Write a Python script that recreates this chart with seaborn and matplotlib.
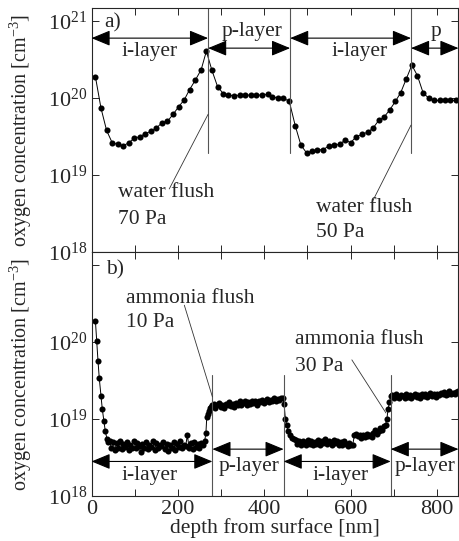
import numpy as np
import matplotlib
matplotlib.use("Agg")
import matplotlib.pyplot as plt
from matplotlib.ticker import MultipleLocator, NullLocator, FixedLocator
import seaborn as sns
import pandas as pd


# ==========================================
# DATA (depth in nm, log10 of oxygen concentration in cm^-3)
# ==========================================
depth_a = [9, 22, 35, 48, 61, 73, 86, 99, 112, 125, 138, 150, 163, 176, 189, 202,
           215, 227, 240, 254, 266, 279, 292, 305, 317, 330, 343, 356, 369, 381,
           394, 408, 419, 432, 444, 458, 472, 485, 498, 511, 523, 536, 550, 562,
           575, 588, 600, 613, 627, 640, 652, 665, 677, 691, 704, 716, 729, 742,
           755, 768, 781, 793, 806, 819, 831, 844]
logc_a = [20.28, 19.87, 19.58, 19.42, 19.40, 19.38, 19.42, 19.48, 19.50, 19.54,
          19.57, 19.61, 19.68, 19.70, 19.79, 19.89, 19.98, 20.11, 20.23, 20.37,
          20.61, 20.36, 20.15, 20.06, 20.04, 20.03, 20.04, 20.04, 20.04, 20.04,
          20.04, 20.05, 20.02, 20.00, 20.00, 19.96, 19.64, 19.39, 19.29, 19.31,
          19.33, 19.33, 19.38, 19.39, 19.40, 19.46, 19.42, 19.50, 19.53, 19.56,
          19.61, 19.71, 19.75, 19.85, 19.96, 20.07, 20.25, 20.43, 20.29, 20.07,
          20.00, 19.97, 19.97, 19.97, 19.97, 19.97]

depth_b = [9, 12, 15, 18, 22, 25, 29, 32, 36, 39,
           42, 46, 50, 54, 58, 62, 66, 70, 74, 78, 82, 86, 90, 94, 98, 102, 106,
           110, 114, 118, 122, 126, 130, 134, 138, 142, 146, 150, 154, 158, 162,
           166, 170, 174, 178, 182, 186, 190, 194, 198, 202, 206, 210, 214, 218,
           222, 226, 230, 234, 238, 242, 246, 250, 254, 258, 262,
           265, 267, 269, 271, 274, 277, 280,
           283, 287, 291, 295, 299, 303, 307, 311, 315, 319, 323, 327, 331, 335,
           339, 343, 347, 351, 355, 359, 363, 367, 371, 375, 379, 383, 387, 391,
           395, 399, 403, 407, 411, 415, 419, 423, 427, 431, 435, 439, 443,
           446, 449, 452, 456, 460, 465, 469,
           473, 477, 481, 485, 489, 493, 497, 501, 505, 509, 513, 517, 521, 525,
           529, 533, 537, 541, 545, 549, 553, 557, 561, 565, 569, 573, 577, 581,
           585, 589, 593, 597, 601, 605,
           609, 613, 617, 621, 625, 629, 633, 637, 641, 645, 649, 653, 657, 661,
           665, 669, 673, 677, 681, 684, 687, 690, 694,
           697, 701, 705, 709, 713, 717, 721, 725, 729, 733, 737, 741, 745, 749,
           753, 757, 761, 765, 769, 773, 777, 781, 785, 789, 793, 797, 801, 805,
           809, 813, 817, 821, 825, 829, 833, 837, 841, 845, 849]
logc_b = [20.28, 20.02, 19.76, 19.53, 19.30, 19.13, 18.97, 18.84, 18.74, 18.70,
          18.71, 18.62, 18.70, 18.60, 18.69, 18.63, 18.72, 18.61, 18.68, 18.64,
          18.70, 18.60, 18.67, 18.63, 18.71, 18.62, 18.69, 18.65, 18.57, 18.68,
          18.63, 18.70, 18.61, 18.66, 18.64, 18.72, 18.60, 18.69, 18.62, 18.67,
          18.65, 18.70, 18.61, 18.68, 18.58, 18.66, 18.63, 18.70, 18.60, 18.68,
          18.64, 18.71, 18.62, 18.67, 18.65, 18.79, 18.63, 18.69, 18.61, 18.70,
          18.64, 18.68, 18.62, 18.69, 18.66, 18.71,
          18.82, 19.03, 19.07, 19.10, 19.14, 19.16, 19.18,
          19.20, 19.15, 19.19, 19.21, 19.16, 19.19, 19.14, 19.20, 19.18, 19.22,
          19.17, 19.20, 19.16, 19.21, 19.19, 19.23, 19.18, 19.21, 19.24, 19.19,
          19.22, 19.20, 19.24, 19.21, 19.23, 19.19, 19.24, 19.22, 19.25, 19.21,
          19.24, 19.26, 19.22, 19.25, 19.23, 19.27, 19.24, 19.26, 19.25, 19.27,
          19.28,
          19.20, 19.00, 18.93, 18.84, 18.79, 18.76, 18.74,
          18.73, 18.68, 18.71, 18.66, 18.72, 18.69, 18.67, 18.73, 18.68, 18.71,
          18.66, 18.70, 18.68, 18.73, 18.67, 18.71, 18.69, 18.74, 18.68, 18.72,
          18.70, 18.67, 18.73, 18.69, 18.71, 18.67, 18.70, 18.66, 18.71, 18.68,
          18.65, 18.69, 18.66, 18.67,
          18.79, 18.81, 18.78, 18.80, 18.76, 18.79, 18.77, 18.81, 18.78, 18.80,
          18.77, 18.82, 18.86, 18.81, 18.84, 18.89, 18.86, 18.91, 18.93, 19.00,
          19.13, 19.22, 19.30,
          19.31, 19.28, 19.32, 19.29, 19.27, 19.31, 19.30, 19.28, 19.32, 19.29,
          19.31, 19.27, 19.30, 19.33, 19.29, 19.31, 19.28, 19.32, 19.30, 19.33,
          19.29, 19.31, 19.34, 19.30, 19.32, 19.29, 19.33, 19.31, 19.34, 19.32,
          19.35, 19.31, 19.33, 19.36, 19.32, 19.34, 19.33, 19.35, 19.36]

# layer boundaries (nm)
bounds_a = [270, 460, 740]
bounds_b = [280, 445, 693]

# layer arrows: (start, end, label, label x)
layers_a = [(0, 270, "i-layer", 134), (270, 460, "p-layer", 372),
            (460, 740, "i-layer", 620), (740, 850, "p", 797)]
layers_b = [(0, 280, "i-layer", 134), (280, 445, "p-layer", 365),
            (445, 693, "i-layer", 578), (693, 850, "p-layer", 772)]

ytick_exp = [18, 19, 20, 21]


# ==========================================
# STYLE
# ==========================================
sns.set_style("ticks")
plt.rcParams["font.family"] = ["Liberation Serif", "DejaVu Serif"]
plt.rcParams["mathtext.fontset"] = "custom"
plt.rcParams["mathtext.rm"] = "Liberation Serif"
plt.rcParams["mathtext.it"] = "Liberation Serif:italic"
FS = 15.5

fig = plt.figure(figsize=(4.59, 5.41), dpi=100)
left, width = 91.5 / 459, 367 / 459
ax_a = fig.add_axes([left, 0.534, width, 0.451])
ax_b = fig.add_axes([left, 0.083, width, 0.451])

df_a = pd.DataFrame({"depth": depth_a, "conc": np.power(10.0, logc_a)})
df_b = pd.DataFrame({"depth": depth_b, "conc": np.power(10.0, logc_b)})

for ax, df in [(ax_a, df_a), (ax_b, df_b)]:
    sns.lineplot(data=df, x="depth", y="conc", ax=ax, color="k", lw=0.7,
                 marker="o", markersize=4.4, markeredgewidth=0,
                 estimator=None, sort=False)
    ax.set_yscale("log")
    ax.set_xlim(0, 850)
    ax.set_ylim(1e18, 10 ** 21.17)
    ax.yaxis.set_major_locator(FixedLocator([10.0 ** e for e in ytick_exp]))
    ax.yaxis.set_minor_locator(NullLocator())
    ax.xaxis.set_major_locator(MultipleLocator(200))
    ax.xaxis.set_minor_locator(MultipleLocator(100))
    ax.tick_params(which="both", direction="in", top=True, right=True,
                   length=5, width=0.7, labelsize=16, pad=3)
    for s in ax.spines.values():
        s.set_linewidth(0.8)
    ax.set_ylabel("oxygen concentration [cm$^{-3}$]", fontsize=14.5)
    ax.yaxis.set_label_coords(-0.158, 0.5)


def layer_arrow(ax, x0, x1, y):
    ax.annotate("", xy=(x1, y), xytext=(x0, y),
                arrowprops=dict(arrowstyle="<|-|>,head_length=0.58,head_width=0.24",
                                color="k", lw=0.8, shrinkA=0, shrinkB=0,
                                mutation_scale=20), annotation_clip=False)


# ------------------------------------------
# PANEL a)
# ------------------------------------------
ax_a.set_yticklabels([f"$10^{{{e}}}$" for e in ytick_exp])
ax_a.set_xlabel("")
ax_a.tick_params(labelbottom=False)
for xb in bounds_a:
    ax_a.plot([xb, xb], [10 ** 19.29, 10 ** 21.17], color="#555555", lw=0.8)
for i, (x0, x1, name, xt) in enumerate(layers_a):
    if i % 2 == 0:
        layer_arrow(ax_a, x0, x1, 10 ** 20.78)
        ax_a.text(xt, 10 ** 20.61, name, ha="center", va="center", fontsize=FS)
    else:
        layer_arrow(ax_a, x0, x1, 10 ** 20.65)
        ax_a.text(xt, 10 ** 20.87, name, ha="center", va="center", fontsize=FS)

ax_a.plot([270, 180], [10 ** 19.79, 10 ** 18.82], color="#333333", lw=0.6)
ax_a.plot([740, 650], [10 ** 19.65, 10 ** 18.65], color="#333333", lw=0.6)
ax_a.text(62, 10 ** 18.77, "water flush", ha="left", va="center", fontsize=FS)
ax_a.text(62, 10 ** 18.43, "70 Pa", ha="left", va="center", fontsize=FS)
ax_a.text(520, 10 ** 18.58, "water flush", ha="left", va="center", fontsize=FS)
ax_a.text(520, 10 ** 18.26, "50 Pa", ha="left", va="center", fontsize=FS)
ax_a.text(0.057, 0.94, "a)", transform=ax_a.transAxes, ha="center", va="center", fontsize=FS)

# ------------------------------------------
# PANEL b)
# ------------------------------------------
ax_b.set_yticklabels([f"$10^{{{e}}}$" if e < 21 else "" for e in ytick_exp])
ax_b.set_xlabel("depth from surface [nm]", fontsize=FS, labelpad=-1)
for xb in bounds_b:
    ax_b.plot([xb, xb], [1e18, 10 ** 19.57], color="#555555", lw=0.8)
for i, (x0, x1, name, xt) in enumerate(layers_b):
    if i % 2 == 0:
        layer_arrow(ax_b, x0, x1, 10 ** 18.45)
        ax_b.text(xt, 10 ** 18.27, name, ha="center", va="center", fontsize=FS)
    else:
        layer_arrow(ax_b, x0, x1, 10 ** 18.61)
        ax_b.text(xt, 10 ** 18.38, name, ha="center", va="center", fontsize=FS)

ax_b.plot([215, 280], [10 ** 20.48, 10 ** 19.29], color="#333333", lw=0.6)
ax_b.plot([603, 682], [10 ** 19.77, 10 ** 19.08], color="#333333", lw=0.6)
ax_b.text(81, 10 ** 20.57, "ammonia flush", ha="left", va="center", fontsize=FS)
ax_b.text(81, 10 ** 20.25, "10 Pa", ha="left", va="center", fontsize=FS)
ax_b.text(472, 10 ** 20.03, "ammonia flush", ha="left", va="center", fontsize=FS)
ax_b.text(472, 10 ** 19.68, "30 Pa", ha="left", va="center", fontsize=FS)
ax_b.text(0.063, 0.926, "b)", transform=ax_b.transAxes, ha="center", va="center", fontsize=FS)

plt.savefig("out.png", dpi=100)
